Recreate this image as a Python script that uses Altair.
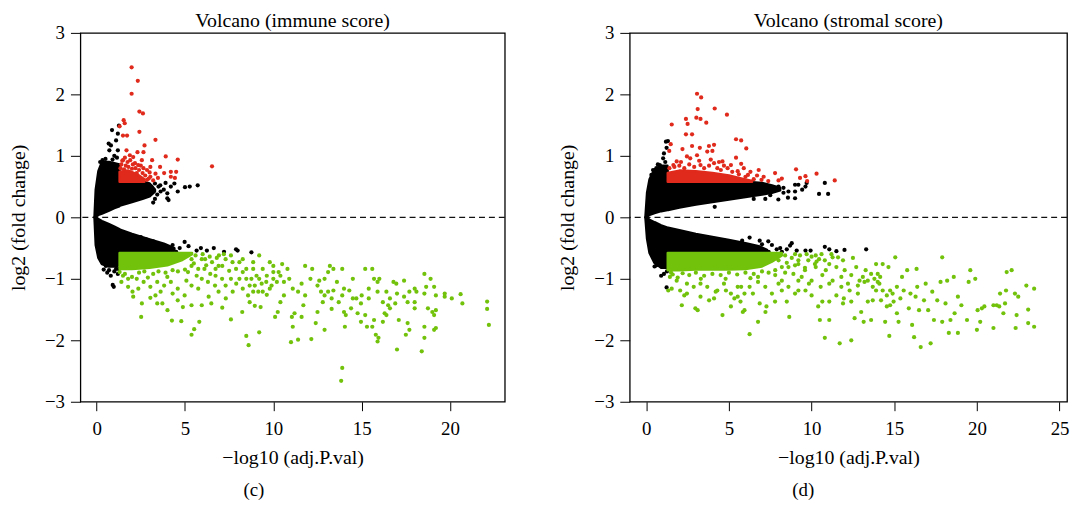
import altair as alt
import pandas as pd

FONT = "Liberation Serif"
RED = "#E02A1C"
GREEN = "#72C20C"

# ---------------- immune score panel (c) ----------------
imm_title = "Volcano (immune score)"
imm_xdomain = [-0.92, 23.1]
imm_xticks = [0, 5, 10, 15, 20]

# dense black core (x, lower edge, upper edge) for the up and down lobes
imm_up_x = [-0.12, -0.05, 0.1, 0.3, 0.7, 1.0, 1.28, 1.32, 2.0, 2.6, 3.0, 3.3]
imm_up_lo = [0.0, 0.01, 0.04, 0.06, 0.11, 0.15, 0.18, 0.19, 0.25, 0.30, 0.34, 0.42]
imm_up_hi = [0.0, 0.45, 0.75, 0.90, 0.90, 0.88, 0.86, 0.58, 0.58, 0.58, 0.55, 0.45]
imm_dn_x = [-0.12, -0.05, 0.1, 0.3, 0.7, 1.0, 1.28, 1.32, 2.0, 3.0, 3.8, 4.4]
imm_dn_hi = [0.0, -0.01, -0.03, -0.06, -0.11, -0.15, -0.19, -0.20, -0.27, -0.36, -0.43, -0.50]
imm_dn_lo = [0.0, -0.45, -0.66, -0.76, -0.80, -0.80, -0.78, -0.58, -0.58, -0.58, -0.58, -0.54]
# dense red / green bands next to the cut-offs
imm_redcore_x = [1.3, 1.8, 2.3, 2.7]
imm_redcore_hi = [0.74, 0.76, 0.70, 0.62]
imm_greencore_x = [1.3, 2.0, 3.0, 4.0, 4.8, 5.4]
imm_greencore_lo = [-0.84, -0.84, -0.82, -0.78, -0.70, -0.60]

imm_red = [(1.98, 2.44), (2.33, 2.22), (1.98, 2.01), (2.42, 1.72), (2.62, 1.69), (1.53, 1.58),
           (1.59, 1.53), (1.49, 1.33), (1.72, 1.33), (2.42, 1.39), (1.30, 1.48), (3.33, 1.26),
           (1.69, 1.09), (2.71, 1.17), (2.31, 1.06), (2.65, 1.06), (3.91, 0.99), (3.14, 0.93),
           (4.59, 0.94), (6.53, 0.83), (3.59, 0.82), (4.20, 0.74), (4.50, 0.74), (3.82, 0.72),
           (4.20, 0.66), (4.43, 0.64), (3.33, 0.71), (3.04, 0.66), (2.85, 0.77), (2.56, 0.93),
           (2.07, 0.98), (1.88, 1.01), (1.49, 0.93), (3.04, 0.82), (2.27, 0.72), (2.85, 0.61),
           (3.47, 0.64), (2.17, 0.88), (1.40, 0.86), (1.65, 0.84), (2.5, 0.84), (3.2, 0.6),
           (1.35, 0.80), (1.55, 0.78), (1.8, 0.82), (2.0, 0.79), (2.2, 0.80), (2.4, 0.77),
           (2.6, 0.72), (2.75, 0.68), (2.95, 0.63), (1.45, 0.92), (1.75, 0.90), (2.05, 0.86),
           (2.35, 0.85), (2.65, 0.80), (3.0, 0.73), (1.6, 0.97), (1.9, 0.93)]

imm_black = [(1.26, 1.49), (0.87, 1.42), (1.20, 1.36), (0.68, 1.20), (0.81, 1.17), (0.72, 1.09),
             (1.10, 1.25), (0.33, 0.93), (1.20, 1.09), (1.0, 1.0), (3.62, 0.42), (4.00, 0.39),
             (4.20, 0.50), (4.59, 0.42), (5.00, 0.49), (5.27, 0.50), (5.72, 0.52), (4.07, 0.28),
             (4.00, 0.31), (3.20, 0.24), (3.43, 0.37), (3.5, 0.5), (3.8, 0.45), (3.3, 0.3),
             (4.98, -0.40), (5.66, -0.54), (6.24, -0.54), (6.63, -0.50), (7.21, -0.56),
             (7.89, -0.52), (7.98, -0.54), (8.76, -0.57), (0.91, -1.10), (0.97, -1.13),
             (0.52, -0.79), (0.33, -0.73), (1.10, -0.84), (1.20, -0.92), (0.6, -0.9),
             (0.8, -0.95), (4.3, -0.45), (4.7, -0.5), (5.2, -0.47), (5.9, -0.5),
             (0.2, 0.9), (0.5, 0.95), (0.9, 0.94), (1.15, 0.97), (0.4, -0.85), (0.7, -0.86),
             (1.0, -0.88), (1.25, -0.84), (3.1, 0.5), (3.3, 0.55), (2.9, 0.36), (3.6, 0.52),
             (3.9, 0.56), (4.4, 0.55), (3.2, -0.39), (3.5, -0.45), (3.9, -0.5), (4.1, -0.55),
             (4.5, -0.56), (2.5, -0.32), (2.8, -0.36)]

imm_green = [(1.78, -1.13), (2.03, -1.21), (2.07, -1.29), (2.56, -1.40), (2.52, -1.62), (3.04, -1.31),
             (3.33, -1.27), (3.43, -1.40), (3.72, -1.40), (4.01, -1.51), (4.26, -1.68), (4.79, -1.69),
             (4.59, -1.35), (4.88, -1.46), (5.37, -1.91), (5.52, -1.82), (5.81, -1.70), (5.37, -1.43),
             (5.95, -1.43), (6.34, -1.29), (6.49, -1.40), (7.11, -1.47), (7.60, -1.66), (7.31, -1.32),
             (8.24, -1.54), (8.47, -1.93), (8.60, -2.08), (9.20, -1.87), (8.95, -1.44), (9.28, -1.46),
             (8.66, -1.38), (9.63, -1.26), (10.1, -1.62), (10.25, -1.54), (10.4, -1.38), (11.0, -2.03),
             (11.1, -1.78), (11.05, -1.62), (11.2, -1.56), (11.4, -1.99), (11.6, -1.62), (11.7, -1.43),
             (12.15, -1.98), (12.4, -1.72), (12.5, -1.54), (12.9, -1.83), (12.8, -1.38), (13.3, -1.49),
             (13.4, -1.19), (13.9, -2.45), (13.84, -2.66), (14.05, -1.78), (14.0, -1.54), (14.1, -1.59),
             (14.5, -1.32), (14.77, -1.56), (14.96, -1.70), (15.2, -1.59), (15.3, -1.78), (15.6, -1.78),
             (15.7, -1.67), (15.8, -1.91), (15.9, -2.02), (15.95, -1.96), (16.2, -1.70), (16.3, -1.56),
             (16.4, -1.59), (16.6, -1.48), (16.9, -1.40), (17.0, -2.15), (17.1, -1.67), (17.6, -1.72),
             (17.5, -1.91), (17.7, -1.83), (18.0, -1.38), (18.0, -1.48), (18.4, -2.18), (18.55, -1.96),
             (18.55, -1.78), (18.75, -1.48), (19.0, -1.54), (19.1, -1.59), (19.1, -1.83), (19.2, -1.80),
             (19.2, -1.51), (19.2, -1.27), (19.1, -1.13), (18.9, -1.00), (18.55, -0.92), (18.65, -1.13),
             (18.55, -1.24), (19.7, -1.24), (19.7, -1.29), (20.1, -1.32), (20.6, -1.25), (20.7, -1.40),
             (22.1, -1.37), (22.1, -1.49), (22.2, -1.75), (18.0, -1.16), (17.7, -1.21), (17.4, -1.29),
             (17.0, -1.24), (16.8, -1.05), (16.96, -1.08), (16.6, -1.32), (16.5, -1.43), (16.2, -1.38),
             (15.9, -1.21), (15.9, -1.05), (15.7, -1.00), (15.6, -0.84), (15.2, -0.84), (15.4, -1.16),
             (15.4, -1.32), (15.0, -1.27), (14.96, -1.40), (14.7, -1.32), (14.4, -1.48), (14.5, -1.00),
             (14.3, -1.19), (14.0, -1.16), (13.9, -1.27), (13.7, -1.38), (13.3, -1.32), (13.1, -1.21),
             (12.9, -1.27), (12.7, -1.21), (12.5, -1.11), (12.6, -1.03), (12.9, -1.00), (13.1, -0.89),
             (13.2, -0.79), (13.4, -0.84), (13.9, -0.84), (13.6, -1.05), (12.2, -0.84), (11.8, -0.79),
             (12.1, -1.00), (11.6, -1.08), (11.4, -1.21), (11.8, -1.27), (11.1, -1.16), (10.9, -1.00),
             (10.8, -0.84), (10.5, -0.76), (10.3, -0.89), (10.0, -1.00), (9.8, -0.73), (9.4, -0.84),
             (9.2, -1.00), (8.95, -1.11), (8.86, -1.21), (8.57, -1.27), (8.27, -1.16), (8.08, -1.00),
             (7.89, -0.84), (7.69, -0.73), (7.3, -0.68), (6.9, -0.79), (7.1, -1.00), (6.7, -1.11),
             (6.9, -1.21), (6.3, -1.05), (6.1, -0.84), (5.95, -0.68), (5.66, -0.95), (5.75, -1.16),
             (5.37, -1.11), (5.08, -1.03), (4.98, -1.27), (4.59, -1.16), (4.2, -1.05), (4.3, -1.24),
             (3.82, -1.11), (3.62, -1.21), (3.43, -1.05), (3.04, -1.13), (2.66, -1.05), (2.36, -1.16),
             (2.27, -1.00), (1.78, -1.00), (1.49, -0.95), (1.3, -0.89), (10.0, -0.79), (10.4, -0.95),
             (9.2, -0.62), (8.86, -0.73), (8.47, -0.84), (8.76, -1.00), (9.8, -1.16), (9.4, -1.21),
             (9.6, -1.05), (10.6, -1.27), (16.0, -1.00), (16.4, -1.21), (17.4, -1.03), (18.1, -1.21),
             (17.6, -1.38), (6.14, -0.68), (6.53, -0.73), (6.73, -0.84), (6.43, -0.92), (7.11, -0.79),
             (7.5, -0.87), (7.6, -1.00), (7.9, -1.08), (8.08, -0.73), (8.27, -0.89), (8.47, -1.00),
             (8.66, -1.11), (9.05, -0.95), (9.34, -1.08), (9.15, -1.21), (9.63, -0.95), (9.9, -1.11),
             (10.2, -1.05), (10.0, -0.89), (10.6, -1.05), (8.86, -0.84), (8.27, -0.68), (5.37, -0.79),
             (5.75, -0.84), (5.17, -0.89), (5.95, -1.00), (6.73, -0.95), (7.3, -1.11), (7.7, -1.21),
             (5.37, -0.68), (6.92, -0.62), (1.6, -0.92), (2.4, -0.90), (3.2, -0.92), (3.9, -0.90),
             (4.6, -0.88), (2.0, -0.97), (2.9, -0.98), (4.0, -0.97), (1.4, -1.05),
             (5.6, -0.62), (6.0, -0.6), (6.4, -0.64), (6.8, -0.66), (7.2, -0.6), (7.6, -0.62),
             (5.0, -0.85), (4.3, -0.86), (3.5, -0.88), (2.7, -0.88), (5.5, -0.75), (6.2, -0.78)]

# ---------------- stromal score panel (d) ----------------
str_title = "Volcano (stromal score)"
str_xdomain = [-1.0, 25.45]
str_xticks = [0, 5, 10, 15, 20, 25]

str_up_x = [-0.05, 0.05, 0.2, 0.5, 0.9, 1.28, 1.32, 2.0, 3.0, 4.0, 5.0, 6.0, 7.0, 7.6, 8.1]
str_up_lo = [0.0, 0.01, 0.04, 0.07, 0.10, 0.12, 0.12, 0.16, 0.21, 0.25, 0.29, 0.33, 0.37, 0.40, 0.44]
str_up_hi = [0.0, 0.40, 0.62, 0.78, 0.84, 0.84, 0.58, 0.58, 0.58, 0.58, 0.58, 0.58, 0.56, 0.52, 0.48]
str_dn_x = [-0.05, 0.05, 0.2, 0.5, 0.9, 1.28, 1.32, 2.0, 3.0, 4.0, 5.0, 6.0, 6.8, 7.3]
str_dn_hi = [0.0, -0.01, -0.04, -0.08, -0.13, -0.17, -0.17, -0.21, -0.27, -0.32, -0.37, -0.42, -0.47, -0.53]
str_dn_lo = [0.0, -0.35, -0.58, -0.74, -0.82, -0.82, -0.58, -0.58, -0.58, -0.58, -0.58, -0.58, -0.58, -0.56]
str_redcore_x = [1.3, 2.0, 3.0, 4.0, 5.0, 5.8, 6.4]
str_redcore_hi = [0.72, 0.76, 0.75, 0.72, 0.68, 0.63, 0.59]
str_greencore_x = [1.3, 2.0, 3.0, 4.0, 5.0, 6.0, 7.0, 7.6, 8.2]
str_greencore_lo = [-0.86, -0.86, -0.85, -0.85, -0.85, -0.84, -0.80, -0.72, -0.62]

str_red = [(3.07, 2.01), (3.32, 1.95), (3.11, 1.76), (4.14, 1.77), (4.88, 1.67), (3.03, 1.62),
           (3.28, 1.60), (2.40, 1.60), (2.50, 1.52), (3.63, 1.54), (1.54, 1.51), (2.40, 1.35),
           (2.77, 1.35), (5.43, 1.27), (5.74, 1.25), (1.48, 1.19), (2.77, 1.16), (3.24, 1.13),
           (3.79, 1.16), (4.10, 1.18), (6.05, 1.12), (2.19, 1.11), (1.39, 1.08), (3.69, 1.07),
           (4.00, 1.08), (2.46, 0.99), (5.43, 0.97), (4.61, 0.91), (5.74, 0.87), (6.80, 0.77),
           (7.79, 0.72), (8.20, 0.63), (9.06, 0.78), (9.30, 0.64), (9.63, 0.67), (9.73, 0.59),
           (10.3, 0.71), (11.4, 0.60), (6.97, 0.61), (7.38, 0.59), (6.15, 0.69), (4.92, 0.80),
           (5.53, 0.75), (4.10, 0.88), (3.28, 0.85), (1.84, 0.91), (1.64, 0.85), (5.12, 0.85),
           (4.51, 0.77), (2.66, 0.96), (3.07, 1.01), (7.1, 0.66), (6.5, 0.62), (8.0, 0.6),
           (1.4, 0.8), (1.7, 0.82), (2.0, 0.84), (2.3, 0.8), (2.6, 0.86), (2.9, 0.82), (3.2, 0.92),
           (3.5, 0.8), (3.8, 0.84), (4.3, 0.8), (4.7, 0.84), (5.2, 0.74), (5.6, 0.7), (6.0, 0.66),
           (2.1, 0.9), (3.9, 0.94), (4.4, 0.9), (6.3, 0.74), (6.7, 0.68), (5.9, 0.8)]

str_black = [(1.19, 1.23), (1.31, 1.24), (1.23, 1.13), (1.07, 1.04), (1.02, 0.96), (0.82, 0.85),
             (0.61, 0.80), (0.41, 0.77), (0.31, 0.69), (7.99, 0.29), (8.57, 0.32), (9.0, 0.42),
             (9.2, 0.53), (9.0, 0.53), (9.63, 0.50), (9.7, 0.56), (9.43, 0.45), (10.45, 0.38),
             (10.8, 0.56), (11.0, 0.38), (9.0, 0.31), (4.14, 0.17), (8.6, 0.42), (8.3, 0.48),
             (6.25, -0.33), (6.86, -0.38), (7.38, -0.39), (7.89, -0.52), (8.5, -0.52), (8.7, -0.46),
             (8.8, -0.42), (9.1, -0.54), (9.63, -0.54), (9.94, -0.54), (10.8, -0.48), (11.07, -0.52),
             (11.5, -0.55), (11.99, -0.53), (13.3, -0.52), (0.72, -0.76), (0.61, -0.78), (1.23, -1.14),
             (1.07, -0.92), (0.9, -0.95), (7.6, -0.45), (8.1, -0.5), (1.15, 0.9), (0.7, 0.86),
             (1.25, -0.88), (0.5, -0.8), (7.5, 0.36), (8.0, 0.5), (8.3, 0.4), (7.2, 0.3),
             (6.5, 0.3), (7.4, -0.56), (6.6, -0.5), (7.0, -0.44), (5.8, -0.38), (8.2, -0.56)]

str_green = [(1.33, -1.19), (1.54, -1.16), (2.15, -1.43), (2.30, -1.27), (2.46, -1.24), (2.97, -1.48),
             (3.11, -1.51), (3.28, -1.08), (3.69, -1.13), (4.10, -1.32), (4.20, -1.21), (4.61, -1.59),
             (4.82, -1.19), (5.12, -1.45), (5.33, -1.32), (5.53, -1.29), (5.70, -1.37), (5.84, -1.54),
             (5.94, -1.51), (6.25, -1.90), (6.45, -1.24), (6.76, -1.70), (6.86, -1.40), (7.21, -1.54),
             (7.27, -1.45), (7.79, -1.37), (8.50, -1.37), (8.65, -1.62), (9.00, -1.24), (9.20, -1.19),
             (9.63, -1.19), (10.0, -1.27), (10.4, -1.45), (10.5, -1.67), (10.8, -1.96), (10.65, -1.37),
             (11.07, -1.67), (11.07, -1.37), (11.5, -1.27), (11.7, -2.05), (11.9, -1.40), (11.95, -1.32),
             (12.4, -2.00), (12.4, -1.37), (12.6, -1.64), (12.8, -1.11), (13.0, -1.54), (13.15, -1.70),
             (13.2, -1.05), (13.27, -0.86), (13.4, -1.37), (13.6, -1.67), (13.7, -1.35), (13.9, -1.19),
             (14.0, -0.92), (14.1, -1.08), (14.2, -1.35), (14.45, -1.70), (14.55, -1.45), (14.7, -1.93),
             (14.75, -1.43), (14.9, -1.24), (15.06, -0.65), (15.16, -1.13), (15.16, -1.56), (15.26, -1.70),
             (15.37, -1.32), (15.47, -0.97), (15.57, -1.19), (15.78, -0.86), (15.88, -1.48), (15.98, -1.24),
             (16.08, -1.75), (16.2, -1.95), (16.29, -1.29), (16.35, -0.84), (16.39, -1.13), (16.5, -1.51),
             (16.6, -2.11), (16.8, -1.35), (16.9, -1.08), (17.05, -1.51), (17.2, -2.05), (17.3, -1.21),
             (17.4, -1.67), (17.6, -1.35), (17.8, -1.05), (17.9, -0.65), (17.9, -1.70), (18.1, -1.40),
             (18.2, -1.03), (18.3, -1.88), (18.4, -1.67), (18.6, -0.97), (18.65, -1.56), (18.85, -1.29),
             (18.85, -1.88), (19.06, -1.43), (19.4, -1.67), (19.5, -1.05), (19.6, -0.86), (19.9, -1.00),
             (20.0, -1.83), (20.04, -1.51), (20.2, -1.70), (20.3, -1.48), (20.45, -1.45), (21.0, -1.80),
             (21.0, -1.43), (21.2, -1.43), (21.35, -1.45), (21.4, -1.24), (21.6, -1.56), (21.7, -1.40),
             (21.76, -1.19), (21.8, -0.89), (22.1, -0.86), (22.3, -1.24), (22.4, -1.59), (22.34, -1.80),
             (22.5, -1.29), (22.99, -1.11), (23.1, -1.50), (23.1, -1.72), (23.46, -1.16), (23.46, -1.78),
             (8.6, -0.81), (8.9, -0.92), (9.2, -0.76), (9.4, -0.97), (9.6, -0.86), (9.8, -0.70),
             (10.0, -1.03), (10.25, -0.81), (10.45, -0.68), (10.65, -0.94), (10.86, -0.86), (11.07, -0.76),
             (11.27, -1.03), (11.5, -0.81), (11.6, -0.65), (11.8, -0.97), (12.0, -0.86), (12.2, -1.08),
             (12.4, -0.94), (12.7, -0.81), (12.9, -1.03), (13.1, -0.97), (13.4, -1.03), (13.6, -0.92),
             (13.8, -1.00), (14.0, -1.05), (14.15, -0.97), (14.3, -1.19), (14.65, -0.81), (14.75, -1.19),
             (14.96, -1.37), (14.55, -1.27), (13.7, -1.13), (12.8, -1.24), (12.3, -1.19), (11.8, -1.13),
             (11.07, -1.08), (10.55, -1.13), (9.84, -1.08), (9.2, -1.03), (8.6, -1.13), (8.2, -1.03),
             (7.8, -0.94), (8.2, -1.19), (7.6, -1.24), (7.2, -1.13), (6.76, -1.05), (6.25, -1.13),
             (5.94, -1.24), (5.53, -1.13), (5.12, -1.24), (4.7, -1.08), (4.3, -1.19), (3.8, -1.35),
             (2.87, -1.13), (2.46, -1.08), (1.84, -1.03), (1.43, -0.97), (2.05, -1.19), (3.28, -1.29),
             (5.74, -1.13), (8.2, -0.81), (9.0, -0.60), (10.25, -0.62), (11.27, -0.65), (11.9, -0.70),
             (13.9, -0.76), (14.3, -0.76), (6.76, -0.97), (8.0, -1.08), (1.6, -0.93), (2.6, -0.94),
             (3.5, -0.95), (4.5, -0.94), (5.5, -0.93), (6.5, -0.92), (7.4, -0.9), (8.4, -0.9), (9.6, -0.82),
             (10.3, -0.72), (1.5, -0.9), (2.2, -0.91), (3.0, -0.9), (4.0, -0.92), (5.0, -0.9),
             (6.0, -0.9), (7.0, -0.88), (7.8, -0.86), (9.0, -0.78), (10.0, -0.64), (10.8, -0.7),
             (11.2, -0.6), (12.5, -0.66), (1.9, -0.98), (3.3, -1.0), (4.8, -1.0), (6.3, -0.99),
             (8.4, -0.62), (8.8, -0.66), (9.3, -0.62), (9.7, -0.6), (10.6, -0.6), (8.5, -0.74),
             (8.0, -0.7), (9.2, -0.7), (10.2, -0.76)]

Y_TICKS = [-3, -2, -1, 0, 1, 2, 3]
H = 372


def panel(title, xdomain, xticks, width, up, dn, redcore, greencore, red, black, green, tag):
    xs = alt.Scale(domain=xdomain, nice=False, zero=False)
    ys = alt.Scale(domain=[-3, 3], nice=False, zero=False)
    xaxis = alt.Axis(values=xticks, title="\u2212log10 (adj.P.val)", format="d")
    yaxis = alt.Axis(values=Y_TICKS, title="log2 (fold change)", format="d")

    def X(f):
        return alt.X(f, type="quantitative", scale=xs, axis=xaxis)

    def Y(f):
        return alt.Y(f, type="quantitative", scale=ys, axis=yaxis)

    zero = alt.Chart(pd.DataFrame({"y": [0]})).mark_rule(
        color="#111111", strokeDash=[6, 4], strokeWidth=1.2
    ).encode(y=Y("y"))

    def core(x, lo, hi, color):
        df = pd.DataFrame({"x": x, "lo": lo, "hi": hi})
        return alt.Chart(df).mark_area(
            color=color, stroke=color, strokeWidth=2.5, strokeJoin="round",
            orient="vertical", opacity=1
        ).encode(x=X("x"), y=Y("lo"), y2="hi")

    def pts(p, color):
        df = pd.DataFrame({"x": [a for a, b in p], "y": [b for a, b in p]})
        return alt.Chart(df).mark_circle(size=18, color=color, opacity=1).encode(x=X("x"), y=Y("y"))

    tagc = alt.Chart(pd.DataFrame({"t": [tag]})).mark_text(
        font=FONT, fontSize=19, color="black", baseline="middle", align="center"
    ).encode(text="t:N", x=alt.value(175), y=alt.value(461))

    return alt.layer(
        zero,
        core(up[0], up[1], up[2], "black"),
        core(dn[0], dn[1], dn[2], "black"),
        pts(black, "black"),
        core(redcore[0], [0.58] * len(redcore[0]), redcore[1], RED),
        pts(red, RED),
        core(greencore[0], greencore[1], [-0.58] * len(greencore[0]), GREEN),
        pts(green, GREEN),
        tagc,
    ).properties(
        width=width, height=H,
        title=alt.TitleParams(title, font=FONT, fontSize=20, fontWeight="normal", color="black", offset=-7),
    )


left = panel(imm_title, imm_xdomain, imm_xticks, 428,
             (imm_up_x, imm_up_lo, imm_up_hi), (imm_dn_x, imm_dn_lo, imm_dn_hi),
             (imm_redcore_x, imm_redcore_hi), (imm_greencore_x, imm_greencore_lo),
             imm_red, imm_black, imm_green, "(c)")
right = panel(str_title, str_xdomain, str_xticks, 441,
              (str_up_x, str_up_lo, str_up_hi), (str_dn_x, str_dn_lo, str_dn_hi),
              (str_redcore_x, str_redcore_hi), (str_greencore_x, str_greencore_lo),
              str_red, str_black, str_green, "(d)")

chart = alt.hconcat(left, right, spacing=51).properties(
    padding={"left": 0, "top": 0, "right": 0, "bottom": 0}
).configure_view(
    stroke="black", strokeWidth=1.3
).configure_axis(
    domain=False, grid=False, ticks=True, tickColor="black", tickWidth=1,
    labelFont=FONT, labelFontSize=19, labelColor="black",
    titleFont=FONT, titleFontSize=20, titleFontWeight="normal", titleColor="black",
).configure_axisY(
    tickSize=10, labelPadding=6, titlePadding=16,
).configure_axisX(
    tickSize=9, labelPadding=9, titlePadding=9,
)

chart.save("out.html", embed_options={"renderer": "svg", "actions": False})
